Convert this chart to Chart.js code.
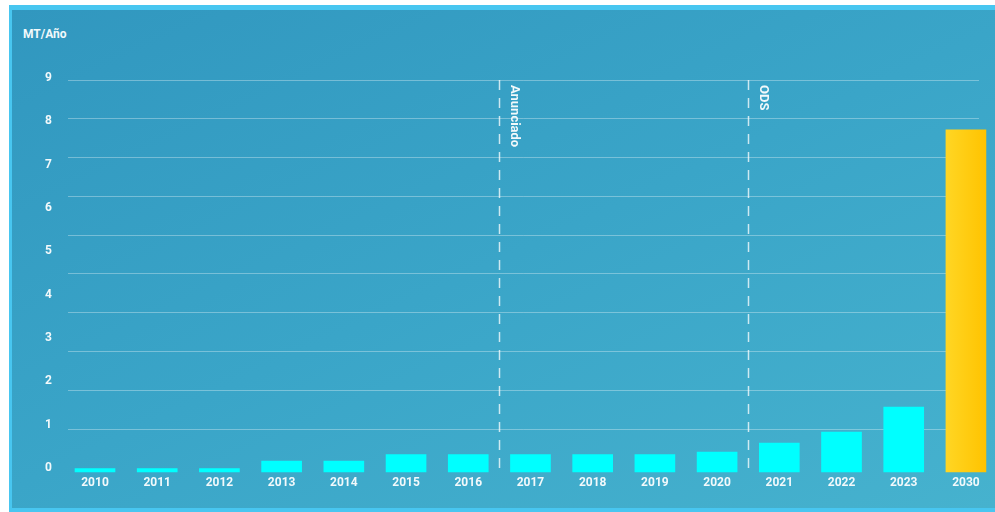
<!DOCTYPE html>
<html>
<head>
<meta charset="utf-8">
<script src="https://cdn.jsdelivr.net/npm/chart.js@4/dist/chart.umd.min.js"></script>
<style>
    html, body { margin: 0; padding: 0; background: #ffffff; width: 995px; height: 512px; overflow: hidden; }
    #frame { position: absolute; left: 9px; top: 5px; width: 986px; height: 507px; background: #48c6f0; }
    #panel { position: absolute; left: 12px; top: 10px; width: 983px; height: 498px;
             background: linear-gradient(155deg, #3197bf 0%, #3aa5c8 50%, #46b2ce 100%); }
    #unit { position: absolute; left: 23px; top: 27px; font: bold 12px Roboto, sans-serif; color: #f2f9fb; }
    #wrap { position: absolute; left: 0; top: 0; width: 995px; height: 512px; }
</style>
</head>
<body>
<div id="frame"></div>
<div id="panel"></div>
<div id="unit">MT/Año</div>
<div id="wrap"><canvas id="chart"></canvas></div>
<script>
// --- Datos ---
const years = ['2010', '2011', '2012', '2013', '2014', '2015', '2016', '2017',
               '2018', '2019', '2020', '2021', '2022', '2023', '2030'];
const capacity = [0.08, 0.08, 0.08, 0.25, 0.25, 0.4, 0.4, 0.4, 0.4, 0.4, 0.46, 0.67, 0.92, 1.5, 7.9];
const yTicks = [0, 1, 2, 3, 4, 5, 6, 7, 8, 9];
// marcas verticales: [posición entre categorías, texto]
const markers = [[6.5, 'Anunciado'], [10.5, 'ODS']];

const textColor = '#f2f9fb';
const gridColor = 'rgba(255,255,255,0.32)';

function barColor(ctx) {
    if (ctx.dataIndex !== years.length - 1) return '#00ffff';
    const chart = ctx.chart;
    const xScale = chart.scales.x;
    if (!xScale || !chart.chartArea) return '#ffc800';
    const cx = xScale.getPixelForValue(ctx.dataIndex);
    const g = chart.ctx.createLinearGradient(cx - 20, 0, cx + 20, 0);
    g.addColorStop(0, '#ffd624');
    g.addColorStop(1, '#ffc300');
    return g;
}

// --- Líneas de referencia ---
const markerPlugin = {
    id: 'markers',
    afterDatasetsDraw(chart) {
        const { ctx, chartArea, scales } = chart;
        ctx.save();
        markers.forEach(([pos, label]) => {
            const x = Math.round(scales.x.getPixelForValue(pos)) + 0.5;
            ctx.strokeStyle = 'rgba(255,255,255,0.75)';
            ctx.lineWidth = 1.5;
            ctx.setLineDash([10, 8]);
            ctx.beginPath();
            ctx.moveTo(x, chartArea.top);
            ctx.lineTo(x, chartArea.bottom);
            ctx.stroke();

            ctx.setLineDash([]);
            ctx.translate(x + 15, chartArea.top + 5);
            ctx.rotate(Math.PI / 2);
            ctx.fillStyle = textColor;
            ctx.font = 'bold 13px Roboto, sans-serif';
            ctx.textAlign = 'left';
            ctx.textBaseline = 'middle';
            ctx.fillText(label, 0, 0);
            ctx.setTransform(1, 0, 0, 1, 0, 0);
        });
        ctx.restore();
    }
};

new Chart(document.getElementById('chart'), {
    type: 'bar',
    data: {
        datasets: [{
            data: capacity.map((v, i) => ({ x: i, y: v })),
            backgroundColor: barColor,
            barThickness: 40,
            clip: false
        }]
    },
    options: {
        responsive: true,
        maintainAspectRatio: false,
        animation: false,
        layout: { padding: { top: 80, right: 16, bottom: 0, left: 0 } },
        plugins: { legend: { display: false }, tooltip: { enabled: false } },
        scales: {
            x: {
                type: 'linear',
                offset: false,
                min: -0.434,
                max: 14.21,
                grid: { display: false, drawTicks: false },
                border: { display: false },
                afterBuildTicks: s => { s.ticks = years.map((_, i) => ({ value: i })); },
                afterFit: s => { s.height = 40; },
                ticks: {
                    padding: 4,
                    color: textColor,
                    font: { family: 'Roboto', size: 12, weight: 'bold' },
                    maxRotation: 0,
                    autoSkip: false,
                    callback: v => years[v]
                }
            },
            y: {
                min: 0,
                max: 9.05,
                grid: { display: false, drawTicks: false },
                border: { display: false },
                afterBuildTicks: s => { s.ticks = yTicks.map(v => ({ value: v })); },
                afterFit: s => { s.width = 68; },
                ticks: {
                    padding: 16,
                    labelOffset: -4,
                    color: textColor,
                    font: { family: 'Roboto', size: 12, weight: 'bold' }
                }
            },
            // líneas de la cuadrícula (escala propia)
            grid: {
                position: 'right',
                min: -1.108,
                max: 9,
                grid: { color: gridColor, lineWidth: 1, drawTicks: false },
                border: { display: false },
                afterBuildTicks: s => { s.ticks = yTicks.map(v => ({ value: v })); },
                afterFit: s => { s.width = 0; },
                ticks: { display: false }
            }
        }
    },
    plugins: [markerPlugin]
});
</script>
</body>
</html>
